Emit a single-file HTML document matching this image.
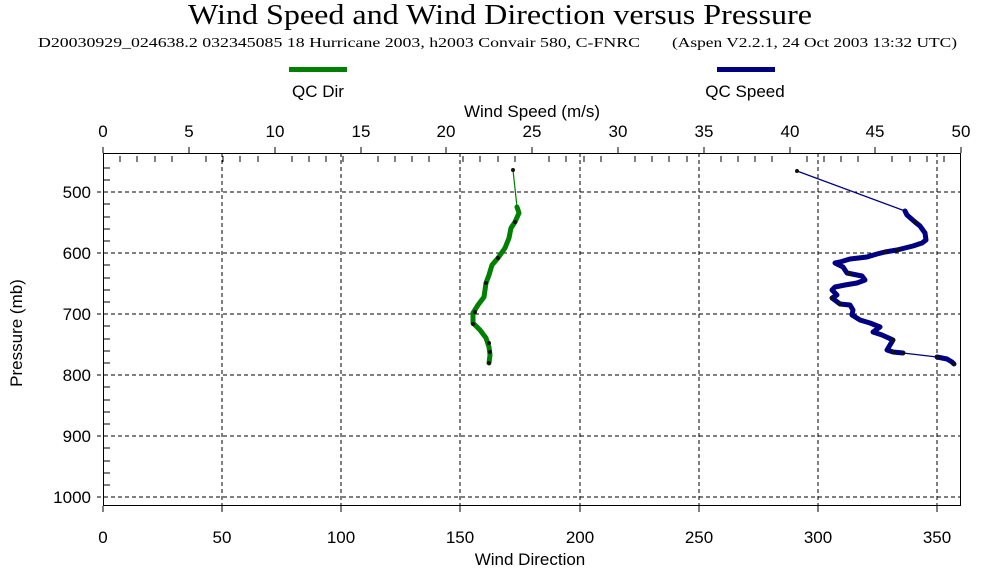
<!DOCTYPE html>
<html><head><style>body{margin:0;background:#fff}svg{display:block}</style></head><body>
<svg width="1000" height="572" viewBox="0 0 1000 572" xmlns="http://www.w3.org/2000/svg">
<rect width="1000" height="572" fill="#fff"/>
<text x="188" y="24" font-family="Liberation Serif, serif" font-size="28" textLength="624" lengthAdjust="spacingAndGlyphs">Wind Speed and Wind Direction versus Pressure</text>
<text x="38" y="47" font-family="Liberation Serif, serif" font-size="14" textLength="602" lengthAdjust="spacingAndGlyphs">D20030929_024638.2 032345085 18 Hurricane 2003, h2003 Convair 580, C-FNRC</text>
<text x="672" y="47" font-family="Liberation Serif, serif" font-size="14" textLength="285" lengthAdjust="spacingAndGlyphs">(Aspen V2.2.1, 24 Oct 2003  13:32 UTC)</text>
<rect x="289" y="67" width="58" height="5" fill="#008000"/>
<text x="318" y="97" font-family="Liberation Sans, sans-serif" font-size="17" text-anchor="middle">QC Dir</text>
<rect x="717" y="67" width="58" height="5" fill="#000080"/>
<text x="745" y="97" font-family="Liberation Sans, sans-serif" font-size="17" text-anchor="middle">QC Speed</text>
<text x="532" y="117" font-family="Liberation Sans, sans-serif" font-size="17" text-anchor="middle">Wind Speed (m/s)</text>
<g font-family="Liberation Sans, sans-serif" font-size="17" text-anchor="middle">
<text x="103" y="137">0</text><text x="189" y="137">5</text><text x="275" y="137">10</text><text x="361" y="137">15</text><text x="446" y="137">20</text><text x="532" y="137">25</text><text x="618" y="137">30</text><text x="704" y="137">35</text><text x="790" y="137">40</text><text x="875" y="137">45</text><text x="961" y="137">50</text>
<text x="103" y="543">0</text><text x="222" y="543">50</text><text x="341" y="543">100</text><text x="460" y="543">150</text><text x="580" y="543">200</text><text x="699" y="543">250</text><text x="818" y="543">300</text><text x="937" y="543">350</text>
</g>
<text x="530" y="565" font-family="Liberation Sans, sans-serif" font-size="17" text-anchor="middle">Wind Direction</text>
<g font-family="Liberation Sans, sans-serif" font-size="17" text-anchor="end">
<text x="91" y="198">500</text><text x="91" y="259">600</text><text x="91" y="320">700</text><text x="91" y="381">800</text><text x="91" y="442">900</text><text x="91" y="503">1000</text>
</g>
<text transform="translate(22,333) rotate(-90)" font-family="Liberation Sans, sans-serif" font-size="17" text-anchor="middle">Pressure (mb)</text>
<g stroke="#000" stroke-width="1" stroke-dasharray="4,3" fill="none">
<path d="M222,153V506M341,153V506M460,153V506M580,153V506M699,153V506M818,153V506M937,153V506"/>
<path d="M97,192H961M97,253H961M97,314H961M97,375H961M97,436H961M97,497H961"/>
</g>
<g stroke="#000" stroke-width="1" fill="none">
<path d="M120,156v6M137,156v6M155,156v6M172,156v6M206,156v6M223,156v6M240,156v6M258,156v6M292,156v6M309,156v6M326,156v6M343,156v6M378,156v6M395,156v6M412,156v6M429,156v6M463,156v6M480,156v6M498,156v6M515,156v6M549,156v6M566,156v6M584,156v6M601,156v6M635,156v6M652,156v6M669,156v6M687,156v6M721,156v6M738,156v6M755,156v6M772,156v6M807,156v6M824,156v6M841,156v6M858,156v6M892,156v6M910,156v6M927,156v6M944,156v6"/>
<path d="M103,147v6M189,147v6M275,147v6M361,147v6M446,147v6M532,147v6M618,147v6M704,147v6M790,147v6M875,147v6M961,147v6"/>
<path d="M103,506v6M222,506v6M341,506v6M460,506v6M580,506v6M699,506v6M818,506v6M937,506v6"/>
<path d="M104,168h6M104,180h6M104,204h6M104,217h6M104,229h6M104,241h6M104,265h6M104,278h6M104,290h6M104,302h6M104,326h6M104,339h6M104,351h6M104,363h6M104,387h6M104,400h6M104,412h6M104,424h6M104,448h6M104,461h6M104,473h6M104,485h6"/>
<rect x="103.5" y="153.5" width="857" height="352"/>
</g>
<g fill="none" stroke-linejoin="round" stroke-linecap="round">
<path d="M513,170L517,207" stroke="#008000" stroke-width="1.2"/>
<path d="M517,207L519,213L515,222L511,228L509,238L505,248L498,258L492,265L489,275L486,283L484,297L478,305L473,313L473,323L480,330L486,338L489,347L490,355L489,363" stroke="#008000" stroke-width="5"/>
<path d="M797,171L905,211" stroke="#000080" stroke-width="1.2"/>
<path d="M905,211L907,215L915,222L920,226L925,233L926,240L922,243L913,246L905,248L897,250L885,252L877,254L867,257L850,259L840,262L835,263L843,267L847,273L862,276L865,280L857,283L845,285L835,287L832,290L837,295L832,298L840,304L850,305L853,310L852,315L860,320L870,323L880,327L873,332L882,335L893,340L890,345L887,350L893,352L903,353" stroke="#000080" stroke-width="5"/>
<path d="M903,353L937,357" stroke="#000080" stroke-width="1.2"/>
<path d="M937,357L947,359L952,362L954,364" stroke="#000080" stroke-width="5"/>
</g>
<g fill="#111">
<circle cx="513" cy="170" r="2"/><circle cx="515" cy="222" r="2"/><circle cx="498" cy="258" r="2"/><circle cx="486" cy="283" r="2"/><circle cx="475" cy="312" r="2"/><circle cx="473" cy="324" r="2"/><circle cx="489" cy="343" r="2"/><circle cx="490" cy="352" r="2"/><circle cx="489" cy="363" r="2"/>
<circle cx="797" cy="171" r="2"/><circle cx="915" cy="222" r="2"/><circle cx="897" cy="250" r="2"/><circle cx="885" cy="252" r="2"/><circle cx="840" cy="304" r="2"/><circle cx="850" cy="274" r="2"/><circle cx="893" cy="340" r="2"/><circle cx="903" cy="353" r="2"/><circle cx="893" cy="352" r="2"/><circle cx="937" cy="357" r="2"/><circle cx="954" cy="364" r="2"/><circle cx="832" cy="298" r="2"/>
</g>
</svg>
</body></html>
